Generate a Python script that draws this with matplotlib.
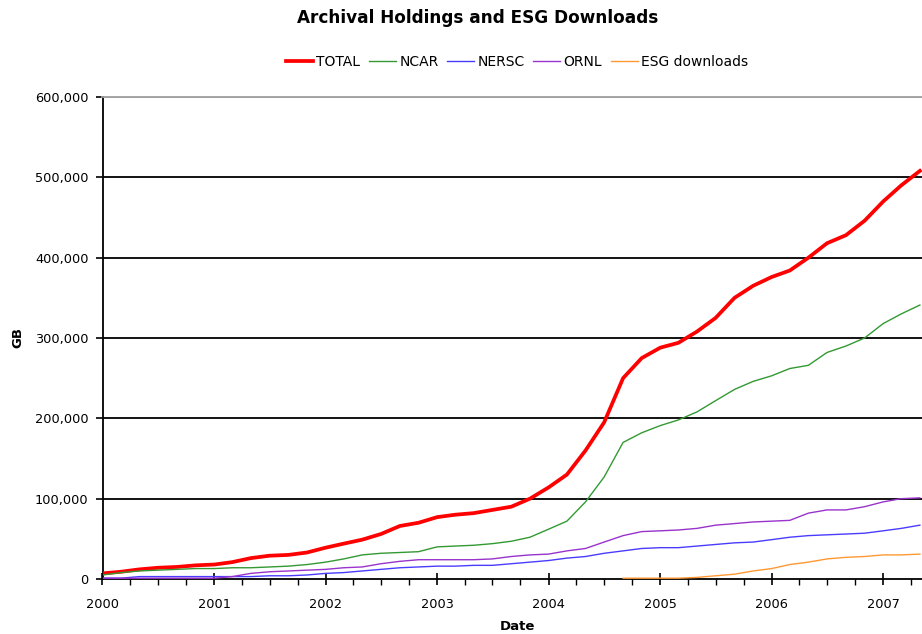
import matplotlib
matplotlib.use("Agg")
import matplotlib.pyplot as plt
import matplotlib.dates as mdates
import matplotlib.ticker as mticker
import numpy as np
import pandas as pd

# bi-monthly sample dates, Jan 2000 .. May 2007
dates = pd.date_range("2000-01-01", periods=45, freq="2MS")

total = [7, 9, 12, 14, 15, 17, 18, 21, 26, 29, 30, 33, 39, 44, 49, 56, 66, 70, 77, 80,
         82, 86, 90, 100, 114, 130, 160, 195, 250, 275, 288, 294, 308, 325, 350, 365,
         376, 384, 400, 418, 428, 446, 470, 490, 508]
ncar = [5, 8, 10, 11, 12, 13, 13, 14, 14, 15, 16, 18, 21, 25, 30, 32, 33, 34, 40, 41,
        42, 44, 47, 52, 62, 72, 96, 127, 170, 182, 191, 198, 208, 222, 236, 246,
        253, 262, 266, 282, 290, 300, 318, 330, 341]
nersc = [1, 1, 3, 3, 3, 3, 3, 3, 3, 4, 4, 5, 7, 8, 10, 12, 14, 15, 16, 16,
         17, 17, 19, 21, 23, 26, 28, 32, 35, 38, 39, 39, 41, 43, 45, 46,
         49, 52, 54, 55, 56, 57, 60, 63, 67]
ornl = [1, 1, 1, 1, 1, 1, 1, 3, 7, 9, 10, 11, 12, 14, 15, 19, 22, 24, 24, 24,
        24, 25, 28, 30, 31, 35, 38, 46, 54, 59, 60, 61, 63, 67, 69, 71,
        72, 73, 82, 86, 86, 90, 96, 100, 101]
esg = [np.nan] * 28 + [1, 1, 1, 1, 2, 4, 6, 10, 13, 18, 21, 25, 27, 28, 30, 30, 31]

series = [
    ("TOTAL", total, "#ff0000", 2.7),
    ("NCAR", ncar, "#339933", 1.0),
    ("NERSC", nersc, "#4a3cff", 1.0),
    ("ORNL", ornl, "#9933cc", 1.0),
    ("ESG downloads", esg, "#ff9933", 1.0),
]

fig = plt.figure(figsize=(9.22, 6.34), dpi=100)
ax = fig.add_axes([102.5 / 922, 55 / 634, 1 - 102.5 / 922, 482 / 634])

for name, vals, col, lw in series:
    ax.plot(dates, np.array(vals, dtype=float) * 1000, color=col, lw=lw, label=name,
            solid_joinstyle="miter", zorder=3)

ax.set_xlim(pd.Timestamp("2000-01-01"), pd.Timestamp("2007-05-08"))
ax.set_ylim(0, 600000)
ax.set_yticks(np.arange(0, 600001, 100000))
ax.yaxis.set_major_formatter(mticker.FuncFormatter(lambda v, p: f"{int(v):,}"))
ax.xaxis.set_major_locator(mdates.YearLocator())
ax.xaxis.set_major_formatter(mdates.DateFormatter("%Y"))
ax.xaxis.set_minor_locator(mdates.MonthLocator(bymonth=[4, 7, 10]))

ax.yaxis.grid(True, color="black", lw=1.3)
ax.set_axisbelow(True)
gl = ax.yaxis.get_gridlines()
gl[-1].set_color("#a0a0a0")
gl[0].set_visible(False)

ax.spines["right"].set_visible(False)
ax.spines["top"].set_color("#a0a0a0")
ax.spines["top"].set_linewidth(1.3)
ax.spines["left"].set_linewidth(1.3)
ax.spines["bottom"].set_linewidth(1.3)

ax.tick_params(axis="y", direction="out", length=5, width=1.2, pad=5, labelsize=9.3)
ax.tick_params(axis="x", which="major", direction="inout", length=9, width=1.2, pad=9,
               labelsize=9.3)
ax.tick_params(axis="x", which="minor", direction="out", length=4, width=1.0)

fig.text(478 / 922, 1 - 18 / 634, "Archival Holdings and ESG Downloads", ha="center",
         va="center", fontsize=12.2, fontweight="bold")
fig.text(18 / 922, 1 - 338 / 634, "GB", rotation=90, ha="center", va="center",
         fontsize=9.5, fontweight="bold")
fig.text(517 / 922, 1 - 627 / 634, "Date", ha="center", va="center",
         fontsize=9.5, fontweight="bold")

leg = fig.legend(loc="center", bbox_to_anchor=(517 / 922, 1 - 62 / 634), ncol=5,
                 frameon=False, fontsize=10, handlelength=1.95, handletextpad=0.25,
                 columnspacing=0.6, borderaxespad=0)

fig.savefig("out.png", dpi=100)
